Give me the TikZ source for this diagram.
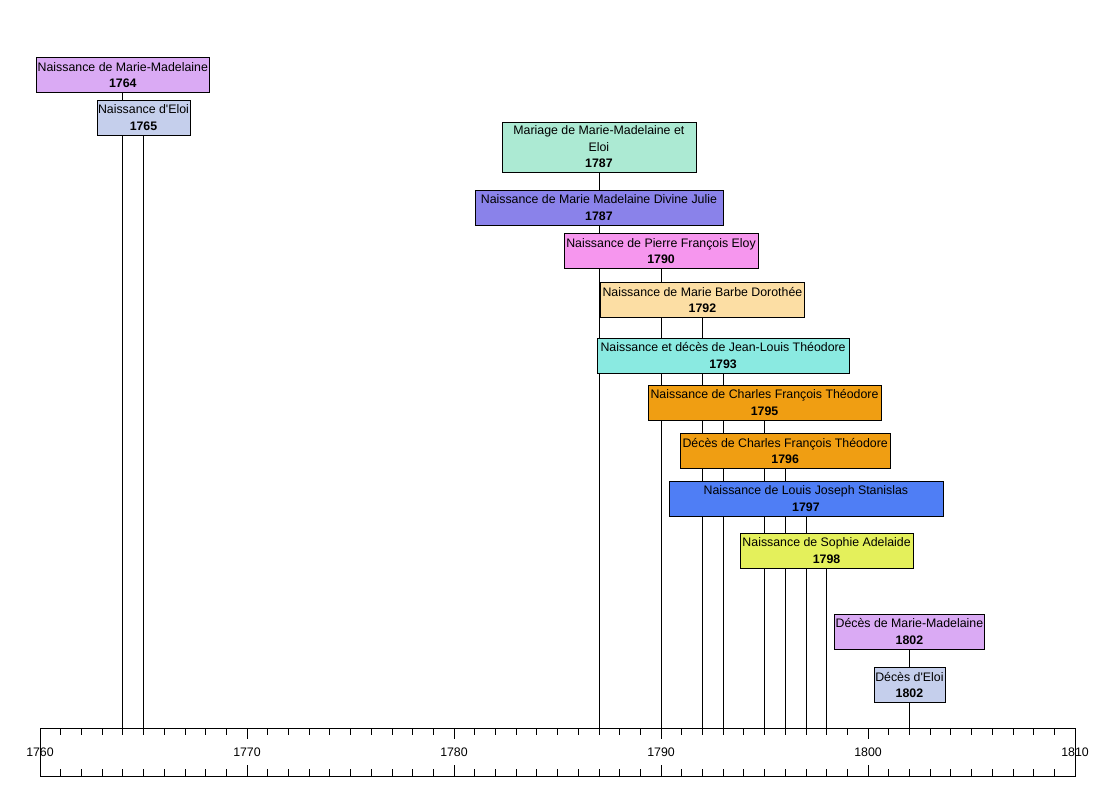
\documentclass[tikz,border=0pt]{standalone}
\usepackage{fontspec}
\setmainfont{Liberation Sans}
\usetikzlibrary{backgrounds}

\definecolor{mauve}{RGB}{218,170,244}
\definecolor{grisbleu}{RGB}{197,207,236}
\definecolor{menthe}{RGB}{172,234,211}
\definecolor{violet}{RGB}{138,130,234}
\definecolor{rose}{RGB}{246,150,238}
\definecolor{peche}{RGB}{252,222,164}
\definecolor{turquoise}{RGB}{138,234,225}
\definecolor{orange}{RGB}{240,158,18}
\definecolor{bleu}{RGB}{79,126,245}
\definecolor{jaune}{RGB}{228,240,91}

\tikzset{
  evt/.style={draw, line width=0.8pt, align=center, inner xsep=1pt, inner ysep=2pt,
    minimum height=35pt, font=\fontsize{12.35}{16.5}\selectfont},
  axe/.style={draw, line width=0.8pt, minimum width=1035pt, minimum height=48pt, inner sep=0pt},
  trait/.style={line width=0.8pt}
}

\begin{document}
\begin{tikzpicture}[x=20.7pt,y=-1pt]
  \useasboundingbox (-1.9324,0) rectangle (51.9324,790);

  % frise
  \node[axe] (axe) at (25,752) {};
  \foreach \a in {1,...,49} {
    \draw[trait] (\a,728) -- (\a,735);
    \draw[trait] (\a,776) -- (\a,769);
  }
  \foreach \a in {10,20,30,40} {
    \draw[trait] (\a,728) -- (\a,739);
    \draw[trait] (\a,776) -- (\a,765);
  }
  \foreach \a/\an in {0/1760,10/1770,20/1780,30/1790,40/1800,50/1810}
    \node[font=\fontsize{12.35}{14}\selectfont] (an\an) at (\a,752) {\an};

  % evenements
  \node[evt, fill=mauve, minimum width=170pt] (nmm) at (4,75) {Naissance de Marie-Madelaine\\\textbf{1764}};
  \node[evt, fill=grisbleu, minimum width=93pt] (nel) at (5,117.5) {Naissance d\textquotesingle Eloi\\\textbf{1765}};
  \node[evt, fill=menthe, minimum width=194pt, minimum height=50pt] (mar) at (27,147) {Mariage de Marie-Madelaine et\\Eloi\\\textbf{1787}};
  \node[evt, fill=violet, minimum width=248pt] (nju) at (27,207.5) {Naissance de Marie Madelaine Divine Julie\\\textbf{1787}};
  \node[evt, fill=rose, minimum width=194pt] (npf) at (30,251) {Naissance de Pierre François Eloy\\\textbf{1790}};
  \node[evt, fill=peche, minimum width=204pt] (nmb) at (32,300) {Naissance de Marie Barbe Dorothée\\\textbf{1792}};
  \node[evt, fill=turquoise, minimum width=252pt] (njl) at (33,355.5) {Naissance et décès de Jean-Louis Théodore\\\textbf{1793}};
  \node[evt, fill=orange, minimum width=233pt] (nch) at (35,402.5) {Naissance de Charles François Théodore\\\textbf{1795}};
  \node[evt, fill=orange, minimum width=210pt] (dch) at (36,451) {Décès de Charles François Théodore\\\textbf{1796}};
  \node[evt, fill=bleu, minimum width=274pt] (nlj) at (37,498.5) {Naissance de Louis Joseph Stanislas\\\textbf{1797}};
  \node[evt, fill=jaune, minimum width=173pt] (nso) at (38,550.5) {Naissance de Sophie Adelaide\\\textbf{1798}};
  \node[evt, fill=mauve, minimum width=149pt] (dmm) at (42,631.5) {Décès de Marie-Madelaine\\\textbf{1802}};
  \node[evt, fill=grisbleu, minimum width=71pt] (del) at (42,685) {Décès d\textquotesingle Eloi\\\textbf{1802}};

  \begin{scope}[on background layer]
    \foreach \e in {nmm,nel,mar,nju,npf,nmb,njl,nch,dch,nlj,nso,dmm,del}
      \draw[trait] (\e.south) -- (\e.south |- axe.north);
  \end{scope}
\end{tikzpicture}
\end{document}
